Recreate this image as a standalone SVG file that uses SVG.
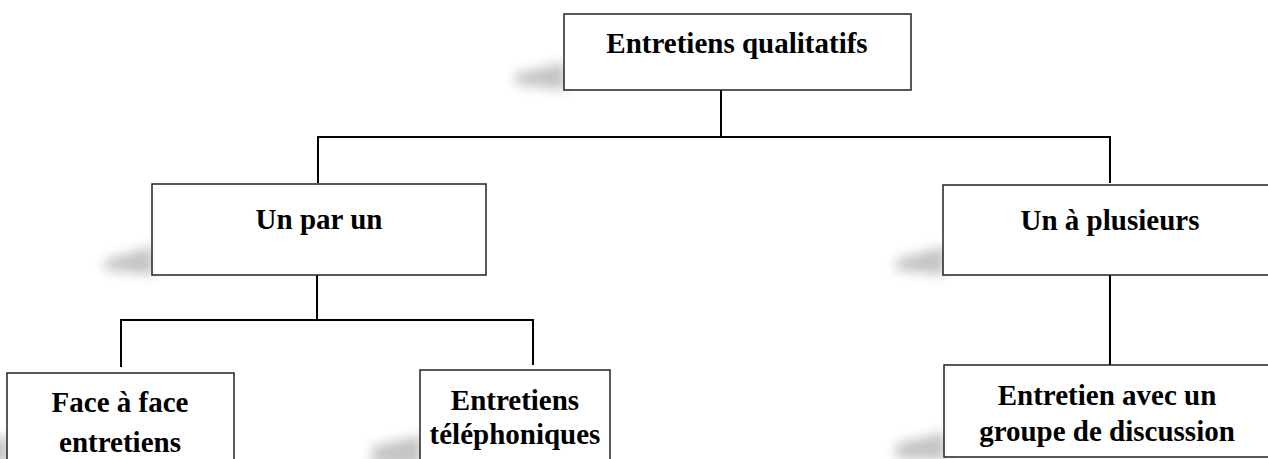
<svg xmlns="http://www.w3.org/2000/svg" width="1268" height="459" viewBox="0 0 1268 459">
<defs>
<filter id="blur" x="-50%" y="-50%" width="200%" height="200%"><feGaussianBlur stdDeviation="6"/></filter>
<style>
.box{fill:#fff;stroke:#222;stroke-width:1.5}
.sh{fill:#8a8a8a;opacity:0.5;filter:url(#blur)}
.ln{fill:none;stroke:#000;stroke-width:2}
text{font-family:"Liberation Serif","Times New Roman",serif;font-weight:bold;font-size:29px;fill:#000;text-anchor:middle}
</style>
</defs>
<rect width="1268" height="459" fill="#fff"/>
<g id="connectors">
<path class="ln" d="M721 90V137M318 183V137H1110V183"/>
<path class="ln" d="M317 275V320M121 367V320H533V365"/>
<path class="ln" d="M1110 275V365"/>
</g>
<g id="n1">
<polygon class="sh" points="515,74 566,62 566,90 515,84"/>
<rect class="box" x="564" y="14" width="347" height="76"/>
<text x="737" y="53">Entretiens qualitatifs</text>
</g>
<g id="n2">
<polygon class="sh" points="105,260 154,246 154,275 105,270"/>
<rect class="box" x="152" y="184" width="334" height="91"/>
<text x="319" y="229">Un par un</text>
</g>
<g id="n3">
<polygon class="sh" points="896,260 945,246 945,275 896,270"/>
<rect class="box" x="943" y="185" width="340" height="90"/>
<text x="1110" y="230">Un à plusieurs</text>
</g>
<g id="n4">
<polygon class="sh" points="-35,447 9,435 9,465 -35,465"/>
<rect class="box" x="7" y="373" width="227" height="100"/>
<text x="120" y="412">Face à face</text>
<text x="120" y="452">entretiens</text>
</g>
<g id="n5">
<polygon class="sh" points="372,447 422,435 422,465 372,465"/>
<rect class="box" x="420" y="370" width="190" height="100"/>
<text x="515" y="410">Entretiens</text>
<text x="515" y="444">téléphoniques</text>
</g>
<g id="n6">
<polygon class="sh" points="896,444 946,432 946,460 896,458"/>
<rect class="box" x="944" y="365" width="340" height="92"/>
<text x="1107" y="405">Entretien avec un</text>
<text x="1107" y="441">groupe de discussion</text>
</g>
</svg>
